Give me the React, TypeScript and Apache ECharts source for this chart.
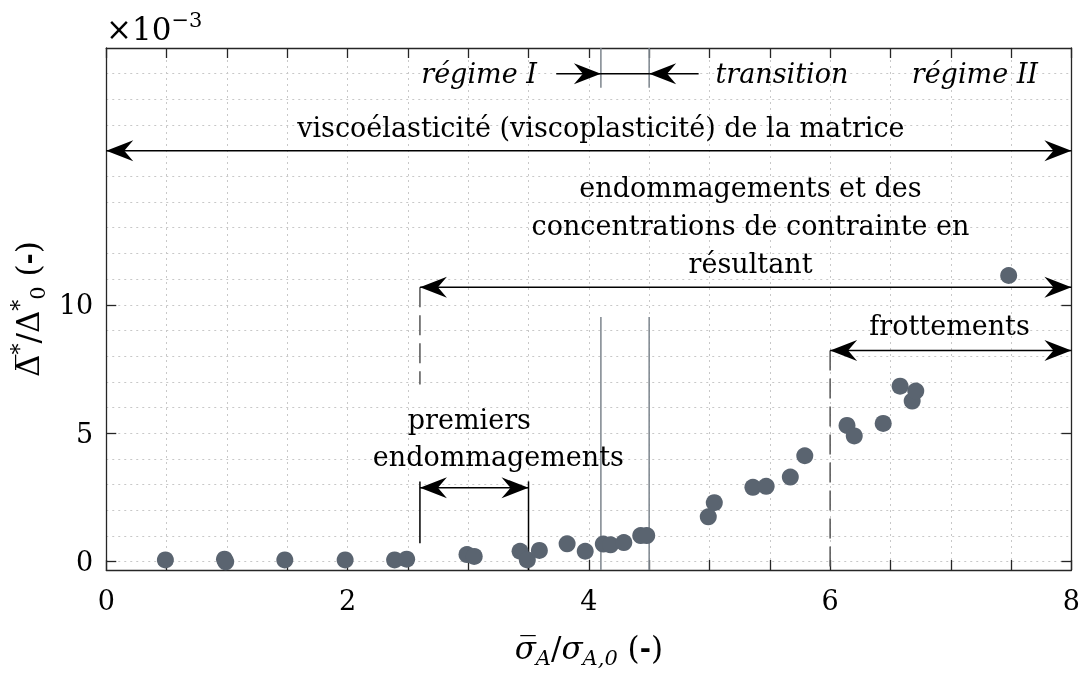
import React, { useEffect, useRef } from 'react';
import * as echarts from 'echarts';

// ---- data ----
const stressRatio = [0.49, 0.98, 0.99, 1.48, 1.98, 2.39, 2.49, 2.99, 3.05, 3.43, 3.49, 3.59, 3.82, 3.97, 4.12, 4.18, 4.29, 4.43, 4.48, 4.99, 5.04, 5.36, 5.47, 5.67, 5.79, 6.14, 6.2, 6.44, 6.58, 6.68, 6.71, 7.48];
const deltaRatio = [0.06, 0.09, -0.01, 0.06, 0.06, 0.06, 0.09, 0.27, 0.2, 0.4, 0.06, 0.43, 0.69, 0.4, 0.68, 0.65, 0.74, 1.01, 1.01, 1.74, 2.29, 2.89, 2.93, 3.29, 4.12, 5.3, 4.89, 5.38, 6.83, 6.25, 6.64, 11.14];

const xLabelValues = [0, 2, 4, 6, 8];
const yTickValues = [0, 5, 10];
const yGridValues = [0, 1, 2, 3, 4, 5, 6, 7, 8, 9, 10, 11, 12, 13, 14, 15, 16, 17, 18, 19];

// double / single arrows: [x1, y1, x2, y2, headAtStart, headAtEnd]
const arrowSegments = [
  [0, 16, 8, 16, 1, 1],
  [2.6, 10.68, 8, 10.68, 1, 1],
  [6, 8.22, 8, 8.22, 1, 1],
  [2.6, 2.87, 3.5, 2.87, 1, 1],
  [3.73, 19, 4.1, 19, 0, 1],
  [4.91, 19, 4.5, 19, 0, 1],
  [4.1, 19, 4.5, 19, 0, 0],
];
const blackLines = [
  [2.6, 3.12, 2.6, 0.71],
  [3.5, 3.12, 3.5, -0.33],
];
const grayLines = [
  [4.1, 9.52, 4.1, -0.33],
  [4.5, 9.52, 4.5, -0.33],
  [4.1, 20, 4.1, 18.45],
  [4.5, 20, 4.5, 18.45],
];
const dashedLines = [
  [2.6, 10.68, 2.6, 6.89],
  [6, 8.22, 6, -0.33],
];
// annotation texts: [text, x, y, italic]
const annotationTexts: [string, number, number, boolean][] = [
  ['régime I', 3.09, 19.02, true],
  ['transition', 5.6, 19.0, true],
  ['régime II', 7.2, 19.0, true],
  ['viscoélasticité (viscoplasticité) de la matrice', 4.1, 16.92, false],
  ['endommagements et des', 5.34, 14.58, false],
  ['concentrations de contrainte en', 5.34, 13.08, false],
  ['résultant', 5.34, 11.59, false],
  ['frottements', 6.99, 9.18, false],
  ['premiers', 3.01, 5.54, false],
  ['endommagements', 3.25, 4.08, false],
];

const FONT = 'DejaVu Serif';
const FS = 27;
const AXIS_COLOR = '#262626';
const Y_MIN = -0.33;
const Y_MAX = 20;

export default function App() {
  const ref = useRef<HTMLDivElement>(null);
  useEffect(() => {
    const chart = echarts.init(ref.current!, null, { renderer: 'svg' });
    const nameRich = {
      b: { fontFamily: FONT, fontSize: 31, lineHeight: 40, color: '#000' },
      i: { fontFamily: FONT, fontSize: 31, lineHeight: 40, fontStyle: 'italic', color: '#000' },
      sb: { fontFamily: FONT, fontSize: 21, lineHeight: 22, fontStyle: 'italic', verticalAlign: 'bottom', color: '#000' },
      sbn: { fontFamily: FONT, fontSize: 21, lineHeight: 22, verticalAlign: 'bottom', color: '#000' },
      sp: { fontFamily: FONT, fontSize: 22, lineHeight: 22, verticalAlign: 'top', color: '#000' },
      bd: { fontFamily: 'DejaVu Sans', fontWeight: 'bold', fontSize: 27, lineHeight: 40, color: '#000' },
    };
    const boxAxisX = {
      type: 'value', min: 0, max: 8, interval: 0.5,
      axisLine: { onZero: false, lineStyle: { color: AXIS_COLOR, width: 1.3 } },
      axisTick: { inside: true, length: 10, lineStyle: { color: AXIS_COLOR, width: 1.3 } },
    };
    const boxAxisY = {
      type: 'value', min: Y_MIN, max: Y_MAX,
      axisLine: { show: true, onZero: false, lineStyle: { color: AXIS_COLOR, width: 1.3 } },
      axisTick: { show: true, inside: true, length: 10, customValues: yTickValues, lineStyle: { color: AXIS_COLOR, width: 1.3 } },
      splitLine: { show: false },
    };
    chart.setOption({
      animation: false,
      grid: { left: 106, right: 9, top: 48, bottom: 93 },
      xAxis: [
        {
          ...boxAxisX,
          axisLabel: {
            margin: 17, fontFamily: FONT, fontSize: FS, color: '#000',
            formatter: (v: number) => (xLabelValues.includes(v) ? String(v) : ''),
          },
          splitLine: { show: true, lineStyle: { color: '#c8c8c8', type: [2, 4], width: 1 } },
          name: '{i|σ\u0305}{sb|A}{b|/}{i|σ}{sb|A,0}{b| }{b|(}{bd|-}{b|)}',
          nameLocation: 'middle', nameGap: 58,
          nameTextStyle: { fontFamily: FONT, fontSize: 31, rich: nameRich },
        },
        {
          ...boxAxisX,
          position: 'top',
          axisLabel: { show: false },
          splitLine: { show: false },
        },
      ],
      yAxis: [
        {
          ...boxAxisY,
          axisLabel: { margin: 13, fontFamily: FONT, fontSize: FS, color: '#000', customValues: yTickValues },
          name: '{b|Δ\u0305}{sp|*}{b|/Δ}{sp|*}{sbn|0}{b| }{b|(}{bd|-}{b|)}',
          nameLocation: 'middle', nameGap: 58, nameRotate: 90,
          nameTextStyle: { fontFamily: FONT, fontSize: 31, rich: nameRich },
        },
        {
          ...boxAxisY,
          position: 'right',
          axisLabel: { show: false },
        },
      ],
      series: [
        {
          type: 'line', data: [], z: 0, silent: true,
          markLine: {
            silent: true, z: 0, symbol: ['none', 'none'], label: { show: false },
            lineStyle: { color: '#c8c8c8', type: [2, 4], width: 1 },
            emphasis: { disabled: true },
            data: yGridValues.map((v) => ({ yAxis: v })),
          },
        },
        {
          type: 'scatter', z: 10, symbolSize: 17,
          itemStyle: { color: '#5a6470', opacity: 1 },
          data: stressRatio.map((x, i) => [x, deltaRatio[i]]),
        },
      ],
    });

    const px = (x: number, y: number) => chart.convertToPixel({ xAxisIndex: 0, yAxisIndex: 0 }, [x, y]) as number[];
    const elements: any[] = [];
    const addLine = (seg: number[], color: string, width: number, dash?: number[]) => {
      const a = px(seg[0], seg[1]);
      const b = px(seg[2], seg[3]);
      const style: any = { stroke: color, lineWidth: width };
      if (dash) style.lineDash = dash;
      elements.push({
        type: 'line', z: 3, silent: true,
        shape: { x1: a[0], y1: a[1], x2: b[0], y2: b[1] },
        style,
      });
    };
    const addHead = (tip: number[], from: number[]) => {
      const dx = tip[0] - from[0];
      const dy = tip[1] - from[1];
      const len = Math.hypot(dx, dy) || 1;
      const ux = dx / len, uy = dy / len;
      const nx = -uy, ny = ux;
      const L = 27, W = 10.5, N = 18;
      elements.push({
        type: 'polygon', z: 4, silent: true,
        shape: {
          points: [
            [tip[0], tip[1]],
            [tip[0] - L * ux + W * nx, tip[1] - L * uy + W * ny],
            [tip[0] - N * ux, tip[1] - N * uy],
            [tip[0] - L * ux - W * nx, tip[1] - L * uy - W * ny],
          ],
        },
        style: { fill: '#000' },
      });
    };
    grayLines.forEach((s) => addLine(s, '#7d858d', 1.5));
    blackLines.forEach((s) => addLine(s, '#000', 1.5));
    dashedLines.forEach((s) => addLine(s, '#555', 1.5, [20, 8]));
    arrowSegments.forEach((s) => {
      addLine(s, '#000', 1.5);
      const a = px(s[0], s[1]);
      const b = px(s[2], s[3]);
      if (s[4]) addHead(a, b);
      if (s[5]) addHead(b, a);
    });
    annotationTexts.forEach(([t, x, y, it]) => {
      const p = px(x, y);
      elements.push({
        type: 'text', z: 6, silent: true, x: p[0], y: p[1],
        style: {
          text: t, fill: '#000', font: `${it ? 'italic ' : ''}${FS}px "${FONT}"`,
          align: 'center', verticalAlign: 'middle',
        },
      });
    });
    elements.push({
      type: 'text', z: 6, silent: true, x: 106, y: 29,
      style: {
        text: '{b|×10}{sp|−3}', align: 'left', verticalAlign: 'middle',
        rich: {
          b: { fontFamily: FONT, fontSize: 31, lineHeight: 40, fill: '#000' },
          sp: { fontFamily: FONT, fontSize: 21, lineHeight: 22, verticalAlign: 'top', fill: '#000' },
        },
      },
    });
    chart.setOption({ graphic: { elements } });
    return () => chart.dispose();
  }, []);
  return <div ref={ref} style={{ position: 'fixed', left: 0, top: 0, width: 1083, height: 673 }} />;
}
